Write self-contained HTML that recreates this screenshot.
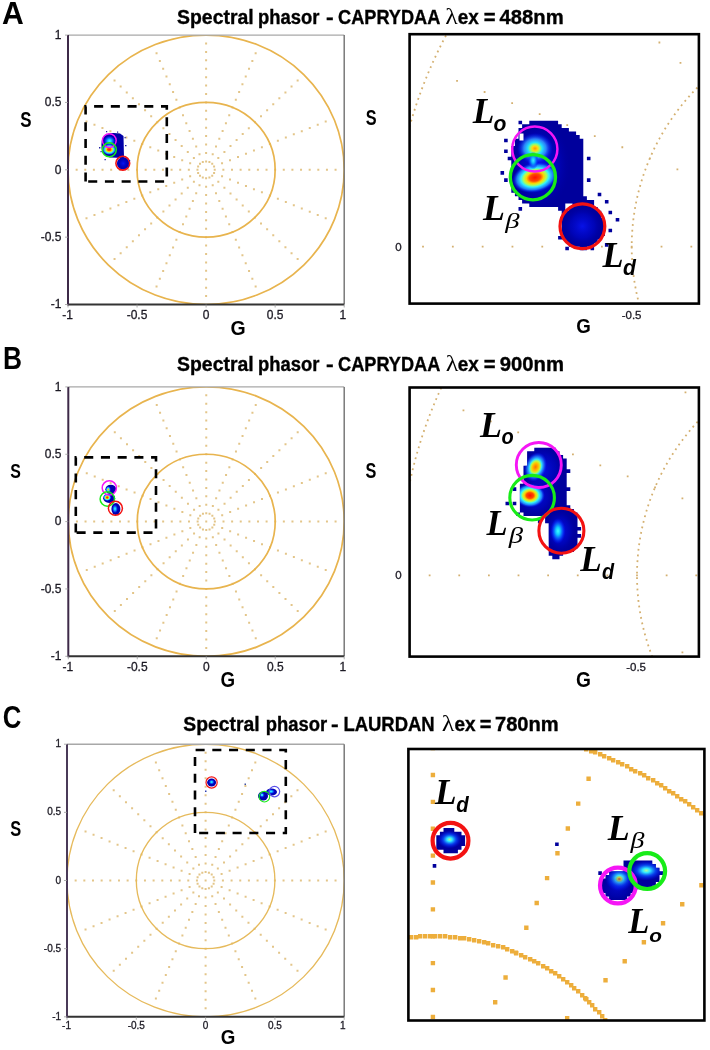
<!DOCTYPE html>
<html><head><meta charset="utf-8"><style>
html,body{margin:0;padding:0;background:#fff;}
body{width:710px;height:1050px;overflow:hidden;}
svg{display:block;will-change:transform;}
.ax{font-family:"Liberation Sans",sans-serif;fill:#1c1a24;stroke:#1c1a24;stroke-width:0.3px;}
</style></head><body>
<svg width="710" height="1050" viewBox="0 0 710 1050">
<defs>

<radialGradient id="gBlue"><stop offset="0" stop-color="#0814f0"/><stop offset="0.6" stop-color="#0008d0" stop-opacity="0.6"/><stop offset="1" stop-color="#0000a8" stop-opacity="0"/></radialGradient>
<radialGradient id="gHotR"><stop offset="0" stop-color="#ff1000"/><stop offset="0.24" stop-color="#ff4a00"/><stop offset="0.38" stop-color="#ffd400"/><stop offset="0.5" stop-color="#b0ff50"/><stop offset="0.62" stop-color="#30f0ff"/><stop offset="0.8" stop-color="#2088ff" stop-opacity="0.9"/><stop offset="1" stop-color="#0010ff" stop-opacity="0"/></radialGradient>
<radialGradient id="gHotY"><stop offset="0" stop-color="#ff9800"/><stop offset="0.16" stop-color="#ffdc10"/><stop offset="0.27" stop-color="#90ff70"/><stop offset="0.4" stop-color="#20e0ff"/><stop offset="0.62" stop-color="#3090ff" stop-opacity="0.9"/><stop offset="1" stop-color="#0010ff" stop-opacity="0"/></radialGradient>
<radialGradient id="gHotO"><stop offset="0" stop-color="#ff7000"/><stop offset="0.28" stop-color="#ffc800"/><stop offset="0.42" stop-color="#b0ff50"/><stop offset="0.54" stop-color="#30e0ff"/><stop offset="0.75" stop-color="#2070ff" stop-opacity="0.8"/><stop offset="1" stop-color="#0010ff" stop-opacity="0"/></radialGradient>
<radialGradient id="gCyan"><stop offset="0" stop-color="#40ffff"/><stop offset="0.3" stop-color="#10c8ff"/><stop offset="0.65" stop-color="#0a50ff" stop-opacity="0.8"/><stop offset="1" stop-color="#0010ff" stop-opacity="0"/></radialGradient>
<radialGradient id="gGY"><stop offset="0" stop-color="#ff6010"/><stop offset="0.14" stop-color="#e0ff30"/><stop offset="0.3" stop-color="#40f0ff"/><stop offset="0.6" stop-color="#0a50ff" stop-opacity="0.8"/><stop offset="1" stop-color="#0010ff" stop-opacity="0"/></radialGradient>
<radialGradient id="gLG"><stop offset="0" stop-color="#b0ffa0"/><stop offset="0.22" stop-color="#30e8ff"/><stop offset="0.55" stop-color="#0a50ff" stop-opacity="0.8"/><stop offset="1" stop-color="#0010ff" stop-opacity="0"/></radialGradient>

<clipPath id="clipA"><rect x="68" y="35.1" width="276.2" height="269.4"/></clipPath>
<clipPath id="clipB"><rect x="68.3" y="386.9" width="275.9" height="269.4"/></clipPath>
<clipPath id="clipC"><rect x="67" y="744.2" width="277.2" height="272.6"/></clipPath>
<clipPath id="icA"><rect x="409.5" y="34.2" width="289.4" height="269.6"/></clipPath>
<clipPath id="icB"><rect x="409.5" y="387.5" width="289.4" height="269"/></clipPath>
<clipPath id="icC"><rect x="408.4" y="749" width="296" height="271.5"/></clipPath>
<clipPath id="hmA1"><path d="M518.5,120.7h3.6v3.6h-3.6zM529.3,120.7h28.8v3.6h-28.8zM522.1,124.3h39.6v3.6h-39.6zM518.5,127.9h50.4v3.6h-50.4zM518.5,131.5h57.6v3.6h-57.6zM518.5,135.1h61.2v3.6h-61.2zM504.1,138.7h3.6v3.6h-3.6zM514.9,138.7h68.4v3.6h-68.4zM514.9,142.3h68.4v3.6h-68.4zM511.3,145.9h72v3.6h-72zM504.1,149.5h3.6v3.6h-3.6zM511.3,149.5h72v3.6h-72zM511.3,153.1h72v3.6h-72zM507.7,156.7h75.6v3.6h-75.6zM586.9,156.7h3.6v3.6h-3.6zM511.3,160.3h72v3.6h-72zM511.3,163.9h72v3.6h-72zM511.3,167.5h72v3.6h-72zM500.5,171.1h3.6v3.6h-3.6zM511.3,171.1h72v3.6h-72zM511.3,174.7h72v3.6h-72zM504.1,178.3h3.6v3.6h-3.6zM511.3,178.3h72v3.6h-72zM586.9,178.3h3.6v3.6h-3.6zM511.3,181.9h72v3.6h-72zM511.3,185.5h72v3.6h-72zM511.3,189.1h72v3.6h-72zM514.9,192.7h68.4v3.6h-68.4zM597.7,192.7h3.6v3.6h-3.6zM518.5,196.3h68.4v3.6h-68.4zM522.1,199.9h72v3.6h-72zM604.9,199.9h3.6v3.6h-3.6zM529.3,203.5h36v3.6h-36zM572.5,203.5h21.6v3.6h-21.6zM518.5,207.1h3.6v3.6h-3.6zM558.1,207.1h7.2v3.6h-7.2zM568.9,207.1h28.8v3.6h-28.8zM561.7,210.7h39.6v3.6h-39.6zM608.5,210.7h3.6v3.6h-3.6zM561.7,214.3h39.6v3.6h-39.6zM561.7,217.9h43.2v3.6h-43.2zM615.7,217.9h3.6v3.6h-3.6zM561.7,221.5h43.2v3.6h-43.2zM561.7,225.1h43.2v3.6h-43.2zM561.7,228.7h43.2v3.6h-43.2zM608.5,228.7h3.6v3.6h-3.6zM561.7,232.3h43.2v3.6h-43.2zM558.1,235.9h43.2v3.6h-43.2zM565.3,239.5h32.4v3.6h-32.4zM568.9,243.1h25.2v3.6h-25.2zM604.9,243.1h3.6v3.6h-3.6zM565.3,246.7h3.6v3.6h-3.6zM579.7,246.7h7.2v3.6h-7.2zM590.5,246.7h3.6v3.6h-3.6z"/></clipPath>
<clipPath id="hmB1"><path d="M534.3,447.7h21.6v3.6h-21.6zM527.1,451.3h32.4v3.6h-32.4zM527.1,454.9h36v3.6h-36zM527.1,458.5h39.6v3.6h-39.6zM527.1,462.1h39.6v3.6h-39.6zM523.5,465.7h43.2v3.6h-43.2zM523.5,469.3h46.8v3.6h-46.8zM523.5,472.9h43.2v3.6h-43.2zM523.5,476.5h43.2v3.6h-43.2zM523.5,480.1h43.2v3.6h-43.2zM519.9,483.7h46.8v3.6h-46.8zM512.7,487.3h3.6v3.6h-3.6zM519.9,487.3h50.4v3.6h-50.4zM519.9,490.9h46.8v3.6h-46.8zM519.9,494.5h46.8v3.6h-46.8zM519.9,498.1h46.8v3.6h-46.8zM505.5,501.7h3.6v3.6h-3.6zM512.7,501.7h3.6v3.6h-3.6zM519.9,501.7h46.8v3.6h-46.8zM519.9,505.3h50.4v3.6h-50.4zM519.9,508.9h54v3.6h-54zM516.3,512.5h3.6v3.6h-3.6zM523.5,512.5h54v3.6h-54zM545.1,516.1h32.4v3.6h-32.4zM537.9,519.7h3.6v3.6h-3.6zM545.1,519.7h32.4v3.6h-32.4zM548.7,523.3h28.8v3.6h-28.8zM548.7,526.9h32.4v3.6h-32.4zM548.7,530.5h28.8v3.6h-28.8zM548.7,534.1h32.4v3.6h-32.4zM548.7,537.7h28.8v3.6h-28.8zM548.7,541.3h28.8v3.6h-28.8zM548.7,544.9h28.8v3.6h-28.8zM548.7,548.5h25.2v3.6h-25.2zM548.7,552.1h14.4v3.6h-14.4zM552.3,555.7h7.2v3.6h-7.2z"/></clipPath>
<clipPath id="hmC1"><path d="M443.5,828.1h10.8v3.6h-10.8zM439.9,831.7h21.6v3.6h-21.6zM436.3,835.3h28.8v3.6h-28.8zM436.3,838.9h28.8v3.6h-28.8zM436.3,842.5h28.8v3.6h-28.8zM555.1,842.5h3.6v3.6h-3.6zM436.3,846.1h25.2v3.6h-25.2zM443.5,849.7h14.4v3.6h-14.4zM623.5,860.5h28.8v3.6h-28.8zM432.7,864.1h3.6v3.6h-3.6zM623.5,864.1h32.4v3.6h-32.4zM623.5,867.7h36v3.6h-36zM598.3,871.3h3.6v3.6h-3.6zM609.1,871.3h54v3.6h-54zM605.5,874.9h54v3.6h-54zM601.9,878.5h57.6v3.6h-57.6zM601.9,882.1h54v3.6h-54zM601.9,885.7h50.4v3.6h-50.4zM601.9,889.3h32.4v3.6h-32.4zM605.5,892.9h25.2v3.6h-25.2zM609.1,896.5h18v3.6h-18z"/></clipPath>
</defs>
<rect width="710" height="1050" fill="#fff"/>
<text x="177.07" y="23.6" font-family='"Liberation Sans",sans-serif' font-weight="bold" font-style="normal" font-size="20" textLength="76.62" lengthAdjust="spacingAndGlyphs" fill="#000" stroke="#000" stroke-width="0.35">Spectral</text>
<text x="258.1" y="23.6" font-family='"Liberation Sans",sans-serif' font-weight="bold" font-style="normal" font-size="20" textLength="61.46" lengthAdjust="spacingAndGlyphs" fill="#000" stroke="#000" stroke-width="0.35">phasor</text>
<text x="326.04" y="23.6" font-family='"Liberation Sans",sans-serif' font-weight="bold" font-style="normal" font-size="20" textLength="7.63" lengthAdjust="spacingAndGlyphs" fill="#000" stroke="#000" stroke-width="0.35">-</text>
<text x="338.07" y="23.6" font-family='"Liberation Sans",sans-serif' font-weight="bold" font-style="normal" font-size="20" textLength="102.28" lengthAdjust="spacingAndGlyphs" fill="#000" stroke="#000" stroke-width="0.35">CAPRYDAA</text>
<text x="457.79" y="23.6" font-family='"Liberation Sans",sans-serif' font-weight="bold" font-style="normal" font-size="20" textLength="21.05" lengthAdjust="spacingAndGlyphs" fill="#000" stroke="#000" stroke-width="0.35">ex</text>
<text x="483.79" y="23.6" font-family='"Liberation Sans",sans-serif' font-weight="bold" font-style="normal" font-size="20" textLength="11.8" lengthAdjust="spacingAndGlyphs" fill="#000" stroke="#000" stroke-width="0.35">=</text>
<text x="499.6" y="23.6" font-family='"Liberation Sans",sans-serif' font-weight="bold" font-style="normal" font-size="20" textLength="64.04" lengthAdjust="spacingAndGlyphs" fill="#000" stroke="#000" stroke-width="0.35">488nm</text>
<text x="177.07" y="370.8" font-family='"Liberation Sans",sans-serif' font-weight="bold" font-style="normal" font-size="20" textLength="76.62" lengthAdjust="spacingAndGlyphs" fill="#000" stroke="#000" stroke-width="0.35">Spectral</text>
<text x="258.1" y="370.8" font-family='"Liberation Sans",sans-serif' font-weight="bold" font-style="normal" font-size="20" textLength="61.46" lengthAdjust="spacingAndGlyphs" fill="#000" stroke="#000" stroke-width="0.35">phasor</text>
<text x="326.04" y="370.8" font-family='"Liberation Sans",sans-serif' font-weight="bold" font-style="normal" font-size="20" textLength="7.63" lengthAdjust="spacingAndGlyphs" fill="#000" stroke="#000" stroke-width="0.35">-</text>
<text x="338.07" y="370.8" font-family='"Liberation Sans",sans-serif' font-weight="bold" font-style="normal" font-size="20" textLength="102.28" lengthAdjust="spacingAndGlyphs" fill="#000" stroke="#000" stroke-width="0.35">CAPRYDAA</text>
<text x="457.79" y="370.8" font-family='"Liberation Sans",sans-serif' font-weight="bold" font-style="normal" font-size="20" textLength="21.05" lengthAdjust="spacingAndGlyphs" fill="#000" stroke="#000" stroke-width="0.35">ex</text>
<text x="483.79" y="370.8" font-family='"Liberation Sans",sans-serif' font-weight="bold" font-style="normal" font-size="20" textLength="11.8" lengthAdjust="spacingAndGlyphs" fill="#000" stroke="#000" stroke-width="0.35">=</text>
<text x="499.74" y="370.8" font-family='"Liberation Sans",sans-serif' font-weight="bold" font-style="normal" font-size="20" textLength="64.2" lengthAdjust="spacingAndGlyphs" fill="#000" stroke="#000" stroke-width="0.35">900nm</text>
<text x="183.37" y="731.1" font-family='"Liberation Sans",sans-serif' font-weight="bold" font-style="normal" font-size="20" textLength="76.21" lengthAdjust="spacingAndGlyphs" fill="#000" stroke="#000" stroke-width="0.35">Spectral</text>
<text x="265.7" y="731.1" font-family='"Liberation Sans",sans-serif' font-weight="bold" font-style="normal" font-size="20" textLength="61.46" lengthAdjust="spacingAndGlyphs" fill="#000" stroke="#000" stroke-width="0.35">phasor</text>
<text x="331.14" y="731.1" font-family='"Liberation Sans",sans-serif' font-weight="bold" font-style="normal" font-size="20" textLength="7.63" lengthAdjust="spacingAndGlyphs" fill="#000" stroke="#000" stroke-width="0.35">-</text>
<text x="343.4" y="731.1" font-family='"Liberation Sans",sans-serif' font-weight="bold" font-style="normal" font-size="20" textLength="91.33" lengthAdjust="spacingAndGlyphs" fill="#000" stroke="#000" stroke-width="0.35">LAURDAN</text>
<text x="454.49" y="731.1" font-family='"Liberation Sans",sans-serif' font-weight="bold" font-style="normal" font-size="20" textLength="21.15" lengthAdjust="spacingAndGlyphs" fill="#000" stroke="#000" stroke-width="0.35">ex</text>
<text x="479.8" y="731.1" font-family='"Liberation Sans",sans-serif' font-weight="bold" font-style="normal" font-size="20" textLength="11.68" lengthAdjust="spacingAndGlyphs" fill="#000" stroke="#000" stroke-width="0.35">=</text>
<text x="494.94" y="731.1" font-family='"Liberation Sans",sans-serif' font-weight="bold" font-style="normal" font-size="20" textLength="63.78" lengthAdjust="spacingAndGlyphs" fill="#000" stroke="#000" stroke-width="0.35">780nm</text>
<text x="445.25" y="24.2" font-family='"Liberation Serif",serif' font-weight="normal" font-style="normal" font-size="22.27" textLength="12.57" lengthAdjust="spacingAndGlyphs" fill="#000">λ</text>
<text x="445.75" y="371.4" font-family='"Liberation Serif",serif' font-weight="normal" font-style="normal" font-size="22.27" textLength="12.68" lengthAdjust="spacingAndGlyphs" fill="#000">λ</text>
<text x="441.85" y="731.2" font-family='"Liberation Serif",serif' font-weight="normal" font-style="normal" font-size="22.27" textLength="12.68" lengthAdjust="spacingAndGlyphs" fill="#000">λ</text>
<text x="2.05" y="23.9" font-family='"Liberation Sans",sans-serif' font-weight="bold" font-style="normal" font-size="31.49" textLength="21.8" lengthAdjust="spacingAndGlyphs" fill="#000">A</text>
<text x="2.89" y="369.2" font-family='"Liberation Sans",sans-serif' font-weight="bold" font-style="normal" font-size="31.42" textLength="18.98" lengthAdjust="spacingAndGlyphs" fill="#000">B</text>
<text x="2.77" y="727.58" font-family='"Liberation Sans",sans-serif' font-weight="bold" font-style="normal" font-size="32.08" textLength="18.63" lengthAdjust="spacingAndGlyphs" fill="#000">C</text>
<text x="20.13" y="126.89" font-family='"Liberation Sans",sans-serif' font-weight="bold" font-style="normal" font-size="21.34" textLength="11.29" lengthAdjust="spacingAndGlyphs" fill="#000">S</text>
<text x="230.52" y="334.79" font-family='"Liberation Sans",sans-serif' font-weight="bold" font-style="normal" font-size="20.64" textLength="15.16" lengthAdjust="spacingAndGlyphs" fill="#000">G</text>
<text x="365.85" y="124.89" font-family='"Liberation Sans",sans-serif' font-weight="bold" font-style="normal" font-size="21.48" textLength="10.85" lengthAdjust="spacingAndGlyphs" fill="#000">S</text>
<text x="576.35" y="333.19" font-family='"Liberation Sans",sans-serif' font-weight="bold" font-style="normal" font-size="21.06" textLength="14.58" lengthAdjust="spacingAndGlyphs" fill="#000">G</text>
<text x="10.36" y="477.89" font-family='"Liberation Sans",sans-serif' font-weight="bold" font-style="normal" font-size="20.64" textLength="10.63" lengthAdjust="spacingAndGlyphs" fill="#000">S</text>
<text x="220.45" y="686.79" font-family='"Liberation Sans",sans-serif' font-weight="bold" font-style="normal" font-size="21.48" textLength="14.58" lengthAdjust="spacingAndGlyphs" fill="#000">G</text>
<text x="365.55" y="478.49" font-family='"Liberation Sans",sans-serif' font-weight="bold" font-style="normal" font-size="21.48" textLength="10.85" lengthAdjust="spacingAndGlyphs" fill="#000">S</text>
<text x="576.03" y="686.79" font-family='"Liberation Sans",sans-serif' font-weight="bold" font-style="normal" font-size="21.48" textLength="14.93" lengthAdjust="spacingAndGlyphs" fill="#000">G</text>
<text x="10.35" y="835.99" font-family='"Liberation Sans",sans-serif' font-weight="bold" font-style="normal" font-size="21.48" textLength="10.96" lengthAdjust="spacingAndGlyphs" fill="#000">S</text>
<text x="220.75" y="1044" font-family='"Liberation Sans",sans-serif' font-weight="bold" font-style="normal" font-size="20.21" textLength="14.58" lengthAdjust="spacingAndGlyphs" fill="#000">G</text>
<g clip-path="url(#clipA)">
<path d="M222.36,168.8h2v2h-2zM230.99,168.8h2v2h-2zM239.62,168.8h2v2h-2zM248.26,168.8h2v2h-2zM256.89,168.8h2v2h-2zM265.52,168.8h2v2h-2zM274.15,168.8h2v2h-2zM282.78,168.8h2v2h-2zM291.41,168.8h2v2h-2zM300.04,168.8h2v2h-2zM308.67,168.8h2v2h-2zM317.31,168.8h2v2h-2zM325.94,168.8h2v2h-2zM334.57,168.8h2v2h-2zM221.05,162.36h2v2h-2zM229.02,159.13h2v2h-2zM237,155.91h2v2h-2zM244.97,152.69h2v2h-2zM252.95,149.47h2v2h-2zM260.92,146.25h2v2h-2zM268.89,143.03h2v2h-2zM276.87,139.8h2v2h-2zM284.84,136.58h2v2h-2zM292.82,133.36h2v2h-2zM300.79,130.14h2v2h-2zM308.77,126.92h2v2h-2zM316.74,123.7h2v2h-2zM324.71,120.47h2v2h-2zM217.31,156.89h2v2h-2zM223.41,150.94h2v2h-2zM229.51,144.99h2v2h-2zM235.62,139.04h2v2h-2zM241.72,133.08h2v2h-2zM247.82,127.13h2v2h-2zM253.93,121.18h2v2h-2zM260.03,115.22h2v2h-2zM266.13,109.27h2v2h-2zM272.24,103.32h2v2h-2zM278.34,97.36h2v2h-2zM284.44,91.41h2v2h-2zM290.55,85.46h2v2h-2zM296.65,79.51h2v2h-2zM211.71,153.24h2v2h-2zM215.01,145.47h2v2h-2zM218.31,137.69h2v2h-2zM221.62,129.91h2v2h-2zM224.92,122.13h2v2h-2zM228.22,114.35h2v2h-2zM231.52,106.58h2v2h-2zM234.83,98.8h2v2h-2zM238.13,91.02h2v2h-2zM241.43,83.24h2v2h-2zM244.74,75.47h2v2h-2zM248.04,67.69h2v2h-2zM251.34,59.91h2v2h-2zM254.65,52.13h2v2h-2zM205.1,151.96h2v2h-2zM205.1,143.54h2v2h-2zM205.1,135.12h2v2h-2zM205.1,126.71h2v2h-2zM205.1,118.29h2v2h-2zM205.1,109.87h2v2h-2zM205.1,101.45h2v2h-2zM205.1,93.03h2v2h-2zM205.1,84.61h2v2h-2zM205.1,76.19h2v2h-2zM205.1,67.78h2v2h-2zM205.1,59.36h2v2h-2zM205.1,50.94h2v2h-2zM205.1,42.52h2v2h-2zM198.49,153.24h2v2h-2zM195.19,145.47h2v2h-2zM191.89,137.69h2v2h-2zM188.58,129.91h2v2h-2zM185.28,122.13h2v2h-2zM181.98,114.35h2v2h-2zM178.68,106.58h2v2h-2zM175.37,98.8h2v2h-2zM172.07,91.02h2v2h-2zM168.77,83.24h2v2h-2zM165.46,75.47h2v2h-2zM162.16,67.69h2v2h-2zM158.86,59.91h2v2h-2zM155.55,52.13h2v2h-2zM192.89,156.89h2v2h-2zM186.79,150.94h2v2h-2zM180.69,144.99h2v2h-2zM174.58,139.04h2v2h-2zM168.48,133.08h2v2h-2zM162.38,127.13h2v2h-2zM156.27,121.18h2v2h-2zM150.17,115.22h2v2h-2zM144.07,109.27h2v2h-2zM137.96,103.32h2v2h-2zM131.86,97.36h2v2h-2zM125.76,91.41h2v2h-2zM119.65,85.46h2v2h-2zM113.55,79.51h2v2h-2zM189.15,162.36h2v2h-2zM181.18,159.13h2v2h-2zM173.2,155.91h2v2h-2zM165.23,152.69h2v2h-2zM157.25,149.47h2v2h-2zM149.28,146.25h2v2h-2zM141.31,143.03h2v2h-2zM133.33,139.8h2v2h-2zM125.36,136.58h2v2h-2zM117.38,133.36h2v2h-2zM109.41,130.14h2v2h-2zM101.43,126.92h2v2h-2zM93.46,123.7h2v2h-2zM85.49,120.47h2v2h-2zM187.84,168.8h2v2h-2zM179.21,168.8h2v2h-2zM170.57,168.8h2v2h-2zM161.94,168.8h2v2h-2zM153.31,168.8h2v2h-2zM144.68,168.8h2v2h-2zM136.05,168.8h2v2h-2zM127.42,168.8h2v2h-2zM118.79,168.8h2v2h-2zM110.16,168.8h2v2h-2zM101.53,168.8h2v2h-2zM92.89,168.8h2v2h-2zM84.26,168.8h2v2h-2zM75.63,168.8h2v2h-2zM189.15,175.24h2v2h-2zM181.18,178.47h2v2h-2zM173.2,181.69h2v2h-2zM165.23,184.91h2v2h-2zM157.25,188.13h2v2h-2zM149.28,191.35h2v2h-2zM141.31,194.57h2v2h-2zM133.33,197.8h2v2h-2zM125.36,201.02h2v2h-2zM117.38,204.24h2v2h-2zM109.41,207.46h2v2h-2zM101.43,210.68h2v2h-2zM93.46,213.9h2v2h-2zM85.49,217.13h2v2h-2zM192.89,180.71h2v2h-2zM186.79,186.66h2v2h-2zM180.69,192.61h2v2h-2zM174.58,198.56h2v2h-2zM168.48,204.52h2v2h-2zM162.38,210.47h2v2h-2zM156.27,216.42h2v2h-2zM150.17,222.38h2v2h-2zM144.07,228.33h2v2h-2zM137.96,234.28h2v2h-2zM131.86,240.24h2v2h-2zM125.76,246.19h2v2h-2zM119.65,252.14h2v2h-2zM113.55,258.09h2v2h-2zM198.49,184.36h2v2h-2zM195.19,192.13h2v2h-2zM191.89,199.91h2v2h-2zM188.58,207.69h2v2h-2zM185.28,215.47h2v2h-2zM181.98,223.25h2v2h-2zM178.68,231.02h2v2h-2zM175.37,238.8h2v2h-2zM172.07,246.58h2v2h-2zM168.77,254.36h2v2h-2zM165.46,262.13h2v2h-2zM162.16,269.91h2v2h-2zM158.86,277.69h2v2h-2zM155.55,285.47h2v2h-2zM205.1,185.64h2v2h-2zM205.1,194.06h2v2h-2zM205.1,202.48h2v2h-2zM205.1,210.89h2v2h-2zM205.1,219.31h2v2h-2zM205.1,227.73h2v2h-2zM205.1,236.15h2v2h-2zM205.1,244.57h2v2h-2zM205.1,252.99h2v2h-2zM205.1,261.41h2v2h-2zM205.1,269.82h2v2h-2zM205.1,278.24h2v2h-2zM205.1,286.66h2v2h-2zM205.1,295.08h2v2h-2zM211.71,184.36h2v2h-2zM215.01,192.13h2v2h-2zM218.31,199.91h2v2h-2zM221.62,207.69h2v2h-2zM224.92,215.47h2v2h-2zM228.22,223.25h2v2h-2zM231.52,231.02h2v2h-2zM234.83,238.8h2v2h-2zM238.13,246.58h2v2h-2zM241.43,254.36h2v2h-2zM244.74,262.13h2v2h-2zM248.04,269.91h2v2h-2zM251.34,277.69h2v2h-2zM254.65,285.47h2v2h-2zM217.31,180.71h2v2h-2zM223.41,186.66h2v2h-2zM229.51,192.61h2v2h-2zM235.62,198.56h2v2h-2zM241.72,204.52h2v2h-2zM247.82,210.47h2v2h-2zM253.93,216.42h2v2h-2zM260.03,222.38h2v2h-2zM266.13,228.33h2v2h-2zM272.24,234.28h2v2h-2zM278.34,240.24h2v2h-2zM284.44,246.19h2v2h-2zM290.55,252.14h2v2h-2zM296.65,258.09h2v2h-2zM221.05,175.24h2v2h-2zM229.02,178.47h2v2h-2zM237,181.69h2v2h-2zM244.97,184.91h2v2h-2zM252.95,188.13h2v2h-2zM260.92,191.35h2v2h-2zM268.89,194.57h2v2h-2zM276.87,197.8h2v2h-2zM284.84,201.02h2v2h-2zM292.82,204.24h2v2h-2zM300.79,207.46h2v2h-2zM308.77,210.68h2v2h-2zM316.74,213.9h2v2h-2zM324.71,217.13h2v2h-2zM213.73,168.8h2v2h-2zM213.07,165.58h2v2h-2zM211.2,162.85h2v2h-2zM208.4,161.02h2v2h-2zM205.1,160.38h2v2h-2zM201.8,161.02h2v2h-2zM199,162.85h2v2h-2zM197.13,165.58h2v2h-2zM196.47,168.8h2v2h-2zM197.13,172.02h2v2h-2zM199,174.75h2v2h-2zM201.8,176.58h2v2h-2zM205.1,177.22h2v2h-2zM208.4,176.58h2v2h-2zM211.2,174.75h2v2h-2zM213.07,172.02h2v2h-2zM205.1,168.8h2v2h-2z" fill="#DAB262" opacity="0.75"/>
<ellipse cx="206.1" cy="169.8" rx="138.1" ry="134.7" fill="none" stroke="#E8B44E" stroke-width="1.7"/>
<ellipse cx="206.1" cy="169.8" rx="69.05" ry="67.35" fill="none" stroke="#E8B44E" stroke-width="1.7"/>
</g>
<line x1="68" y1="35.1" x2="344.2" y2="35.1" stroke="#a8a8a8" stroke-width="1.4"/>
<line x1="344.2" y1="35.1" x2="344.2" y2="304.5" stroke="#707070" stroke-width="1.4"/>
<line x1="68" y1="304.5" x2="344.2" y2="304.5" stroke="#333" stroke-width="2"/>
<line x1="68" y1="35.1" x2="68" y2="305.5" stroke="#3e2a48" stroke-width="2"/>
<text x="61.4" y="38.82" font-size="12" text-anchor="end" class="ax">1</text>
<line x1="65" y1="35.1" x2="68" y2="35.1" stroke="#999" stroke-width="0.8"/>
<text x="61.4" y="106.17" font-size="12" text-anchor="end" class="ax">0.5</text>
<line x1="65" y1="102.45" x2="68" y2="102.45" stroke="#999" stroke-width="0.8"/>
<text x="61.4" y="173.52" font-size="12" text-anchor="end" class="ax">0</text>
<line x1="65" y1="169.8" x2="68" y2="169.8" stroke="#999" stroke-width="0.8"/>
<text x="61.4" y="240.87" font-size="12" text-anchor="end" class="ax">-0.5</text>
<line x1="65" y1="237.15" x2="68" y2="237.15" stroke="#999" stroke-width="0.8"/>
<text x="61.4" y="308.22" font-size="12" text-anchor="end" class="ax">-1</text>
<line x1="65" y1="304.5" x2="68" y2="304.5" stroke="#999" stroke-width="0.8"/>
<text x="342.9" y="318.8" font-size="12" text-anchor="middle" class="ax">1</text>
<line x1="344.2" y1="304.5" x2="344.2" y2="307.5" stroke="#999" stroke-width="0.8"/>
<text x="275.15" y="318.8" font-size="12" text-anchor="middle" class="ax">0.5</text>
<line x1="275.15" y1="304.5" x2="275.15" y2="307.5" stroke="#999" stroke-width="0.8"/>
<text x="206.1" y="318.8" font-size="12" text-anchor="middle" class="ax">0</text>
<line x1="206.1" y1="304.5" x2="206.1" y2="307.5" stroke="#999" stroke-width="0.8"/>
<text x="137.05" y="318.8" font-size="12" text-anchor="middle" class="ax">-0.5</text>
<line x1="137.05" y1="304.5" x2="137.05" y2="307.5" stroke="#999" stroke-width="0.8"/>
<text x="67.5" y="318.8" font-size="12" text-anchor="middle" class="ax">-1</text>
<line x1="68" y1="304.5" x2="68" y2="307.5" stroke="#999" stroke-width="0.8"/>
<g clip-path="url(#clipB)">
<path d="M222.49,520.6h2v2h-2zM231.12,520.6h2v2h-2zM239.74,520.6h2v2h-2zM248.36,520.6h2v2h-2zM256.98,520.6h2v2h-2zM265.6,520.6h2v2h-2zM274.23,520.6h2v2h-2zM282.85,520.6h2v2h-2zM291.47,520.6h2v2h-2zM300.09,520.6h2v2h-2zM308.71,520.6h2v2h-2zM317.33,520.6h2v2h-2zM325.96,520.6h2v2h-2zM334.58,520.6h2v2h-2zM221.18,514.16h2v2h-2zM229.15,510.93h2v2h-2zM237.11,507.71h2v2h-2zM245.08,504.49h2v2h-2zM253.04,501.27h2v2h-2zM261.01,498.05h2v2h-2zM268.97,494.83h2v2h-2zM276.94,491.6h2v2h-2zM284.91,488.38h2v2h-2zM292.87,485.16h2v2h-2zM300.84,481.94h2v2h-2zM308.8,478.72h2v2h-2zM316.77,475.5h2v2h-2zM324.73,472.27h2v2h-2zM217.44,508.69h2v2h-2zM223.54,502.74h2v2h-2zM229.64,496.79h2v2h-2zM235.73,490.84h2v2h-2zM241.83,484.88h2v2h-2zM247.93,478.93h2v2h-2zM254.02,472.98h2v2h-2zM260.12,467.02h2v2h-2zM266.22,461.07h2v2h-2zM272.31,455.12h2v2h-2zM278.41,449.16h2v2h-2zM284.51,443.21h2v2h-2zM290.6,437.26h2v2h-2zM296.7,431.31h2v2h-2zM211.85,505.04h2v2h-2zM215.15,497.27h2v2h-2zM218.45,489.49h2v2h-2zM221.75,481.71h2v2h-2zM225.05,473.93h2v2h-2zM228.35,466.15h2v2h-2zM231.65,458.38h2v2h-2zM234.95,450.6h2v2h-2zM238.24,442.82h2v2h-2zM241.54,435.04h2v2h-2zM244.84,427.27h2v2h-2zM248.14,419.49h2v2h-2zM251.44,411.71h2v2h-2zM254.74,403.93h2v2h-2zM205.25,503.76h2v2h-2zM205.25,495.34h2v2h-2zM205.25,486.92h2v2h-2zM205.25,478.51h2v2h-2zM205.25,470.09h2v2h-2zM205.25,461.67h2v2h-2zM205.25,453.25h2v2h-2zM205.25,444.83h2v2h-2zM205.25,436.41h2v2h-2zM205.25,427.99h2v2h-2zM205.25,419.57h2v2h-2zM205.25,411.16h2v2h-2zM205.25,402.74h2v2h-2zM205.25,394.32h2v2h-2zM198.65,505.04h2v2h-2zM195.35,497.27h2v2h-2zM192.05,489.49h2v2h-2zM188.75,481.71h2v2h-2zM185.45,473.93h2v2h-2zM182.15,466.15h2v2h-2zM178.85,458.38h2v2h-2zM175.55,450.6h2v2h-2zM172.26,442.82h2v2h-2zM168.96,435.04h2v2h-2zM165.66,427.27h2v2h-2zM162.36,419.49h2v2h-2zM159.06,411.71h2v2h-2zM155.76,403.93h2v2h-2zM193.06,508.69h2v2h-2zM186.96,502.74h2v2h-2zM180.86,496.79h2v2h-2zM174.77,490.84h2v2h-2zM168.67,484.88h2v2h-2zM162.57,478.93h2v2h-2zM156.48,472.98h2v2h-2zM150.38,467.02h2v2h-2zM144.28,461.07h2v2h-2zM138.19,455.12h2v2h-2zM132.09,449.16h2v2h-2zM125.99,443.21h2v2h-2zM119.9,437.26h2v2h-2zM113.8,431.31h2v2h-2zM189.32,514.16h2v2h-2zM181.35,510.93h2v2h-2zM173.39,507.71h2v2h-2zM165.42,504.49h2v2h-2zM157.46,501.27h2v2h-2zM149.49,498.05h2v2h-2zM141.53,494.83h2v2h-2zM133.56,491.6h2v2h-2zM125.59,488.38h2v2h-2zM117.63,485.16h2v2h-2zM109.66,481.94h2v2h-2zM101.7,478.72h2v2h-2zM93.73,475.5h2v2h-2zM85.77,472.27h2v2h-2zM188.01,520.6h2v2h-2zM179.38,520.6h2v2h-2zM170.76,520.6h2v2h-2zM162.14,520.6h2v2h-2zM153.52,520.6h2v2h-2zM144.9,520.6h2v2h-2zM136.28,520.6h2v2h-2zM127.65,520.6h2v2h-2zM119.03,520.6h2v2h-2zM110.41,520.6h2v2h-2zM101.79,520.6h2v2h-2zM93.17,520.6h2v2h-2zM84.54,520.6h2v2h-2zM75.92,520.6h2v2h-2zM189.32,527.04h2v2h-2zM181.35,530.27h2v2h-2zM173.39,533.49h2v2h-2zM165.42,536.71h2v2h-2zM157.46,539.93h2v2h-2zM149.49,543.15h2v2h-2zM141.53,546.37h2v2h-2zM133.56,549.6h2v2h-2zM125.59,552.82h2v2h-2zM117.63,556.04h2v2h-2zM109.66,559.26h2v2h-2zM101.7,562.48h2v2h-2zM93.73,565.7h2v2h-2zM85.77,568.93h2v2h-2zM193.06,532.51h2v2h-2zM186.96,538.46h2v2h-2zM180.86,544.41h2v2h-2zM174.77,550.36h2v2h-2zM168.67,556.32h2v2h-2zM162.57,562.27h2v2h-2zM156.48,568.22h2v2h-2zM150.38,574.18h2v2h-2zM144.28,580.13h2v2h-2zM138.19,586.08h2v2h-2zM132.09,592.04h2v2h-2zM125.99,597.99h2v2h-2zM119.9,603.94h2v2h-2zM113.8,609.89h2v2h-2zM198.65,536.16h2v2h-2zM195.35,543.93h2v2h-2zM192.05,551.71h2v2h-2zM188.75,559.49h2v2h-2zM185.45,567.27h2v2h-2zM182.15,575.05h2v2h-2zM178.85,582.82h2v2h-2zM175.55,590.6h2v2h-2zM172.26,598.38h2v2h-2zM168.96,606.16h2v2h-2zM165.66,613.93h2v2h-2zM162.36,621.71h2v2h-2zM159.06,629.49h2v2h-2zM155.76,637.27h2v2h-2zM205.25,537.44h2v2h-2zM205.25,545.86h2v2h-2zM205.25,554.27h2v2h-2zM205.25,562.69h2v2h-2zM205.25,571.11h2v2h-2zM205.25,579.53h2v2h-2zM205.25,587.95h2v2h-2zM205.25,596.37h2v2h-2zM205.25,604.79h2v2h-2zM205.25,613.21h2v2h-2zM205.25,621.62h2v2h-2zM205.25,630.04h2v2h-2zM205.25,638.46h2v2h-2zM205.25,646.88h2v2h-2zM211.85,536.16h2v2h-2zM215.15,543.93h2v2h-2zM218.45,551.71h2v2h-2zM221.75,559.49h2v2h-2zM225.05,567.27h2v2h-2zM228.35,575.05h2v2h-2zM231.65,582.82h2v2h-2zM234.95,590.6h2v2h-2zM238.24,598.38h2v2h-2zM241.54,606.16h2v2h-2zM244.84,613.93h2v2h-2zM248.14,621.71h2v2h-2zM251.44,629.49h2v2h-2zM254.74,637.27h2v2h-2zM217.44,532.51h2v2h-2zM223.54,538.46h2v2h-2zM229.64,544.41h2v2h-2zM235.73,550.36h2v2h-2zM241.83,556.32h2v2h-2zM247.93,562.27h2v2h-2zM254.02,568.22h2v2h-2zM260.12,574.18h2v2h-2zM266.22,580.13h2v2h-2zM272.31,586.08h2v2h-2zM278.41,592.04h2v2h-2zM284.51,597.99h2v2h-2zM290.6,603.94h2v2h-2zM296.7,609.89h2v2h-2zM221.18,527.04h2v2h-2zM229.15,530.27h2v2h-2zM237.11,533.49h2v2h-2zM245.08,536.71h2v2h-2zM253.04,539.93h2v2h-2zM261.01,543.15h2v2h-2zM268.97,546.37h2v2h-2zM276.94,549.6h2v2h-2zM284.91,552.82h2v2h-2zM292.87,556.04h2v2h-2zM300.84,559.26h2v2h-2zM308.8,562.48h2v2h-2zM316.77,565.7h2v2h-2zM324.73,568.93h2v2h-2zM213.87,520.6h2v2h-2zM213.22,517.38h2v2h-2zM211.35,514.65h2v2h-2zM208.55,512.82h2v2h-2zM205.25,512.18h2v2h-2zM201.95,512.82h2v2h-2zM199.15,514.65h2v2h-2zM197.28,517.38h2v2h-2zM196.63,520.6h2v2h-2zM197.28,523.82h2v2h-2zM199.15,526.55h2v2h-2zM201.95,528.38h2v2h-2zM205.25,529.02h2v2h-2zM208.55,528.38h2v2h-2zM211.35,526.55h2v2h-2zM213.22,523.82h2v2h-2zM205.25,520.6h2v2h-2z" fill="#DAB262" opacity="0.75"/>
<ellipse cx="206.25" cy="521.6" rx="137.95" ry="134.7" fill="none" stroke="#E8B44E" stroke-width="1.7"/>
<ellipse cx="206.25" cy="521.6" rx="68.97" ry="67.35" fill="none" stroke="#E8B44E" stroke-width="1.7"/>
</g>
<line x1="68.3" y1="386.9" x2="344.2" y2="386.9" stroke="#a8a8a8" stroke-width="1.4"/>
<line x1="344.2" y1="386.9" x2="344.2" y2="656.3" stroke="#707070" stroke-width="1.4"/>
<line x1="68.3" y1="656.3" x2="344.2" y2="656.3" stroke="#333" stroke-width="2"/>
<line x1="68.3" y1="386.9" x2="68.3" y2="657.3" stroke="#3e2a48" stroke-width="2"/>
<text x="61.4" y="390.62" font-size="12" text-anchor="end" class="ax">1</text>
<line x1="65.3" y1="386.9" x2="68.3" y2="386.9" stroke="#999" stroke-width="0.8"/>
<text x="61.4" y="457.97" font-size="12" text-anchor="end" class="ax">0.5</text>
<line x1="65.3" y1="454.25" x2="68.3" y2="454.25" stroke="#999" stroke-width="0.8"/>
<text x="61.4" y="525.32" font-size="12" text-anchor="end" class="ax">0</text>
<line x1="65.3" y1="521.6" x2="68.3" y2="521.6" stroke="#999" stroke-width="0.8"/>
<text x="61.4" y="592.67" font-size="12" text-anchor="end" class="ax">-0.5</text>
<line x1="65.3" y1="588.95" x2="68.3" y2="588.95" stroke="#999" stroke-width="0.8"/>
<text x="61.4" y="660.02" font-size="12" text-anchor="end" class="ax">-1</text>
<line x1="65.3" y1="656.3" x2="68.3" y2="656.3" stroke="#999" stroke-width="0.8"/>
<text x="342.9" y="671" font-size="12" text-anchor="middle" class="ax">1</text>
<line x1="344.2" y1="656.3" x2="344.2" y2="659.3" stroke="#999" stroke-width="0.8"/>
<text x="275.23" y="671" font-size="12" text-anchor="middle" class="ax">0.5</text>
<line x1="275.23" y1="656.3" x2="275.23" y2="659.3" stroke="#999" stroke-width="0.8"/>
<text x="206.25" y="671" font-size="12" text-anchor="middle" class="ax">0</text>
<line x1="206.25" y1="656.3" x2="206.25" y2="659.3" stroke="#999" stroke-width="0.8"/>
<text x="137.28" y="671" font-size="12" text-anchor="middle" class="ax">-0.5</text>
<line x1="137.28" y1="656.3" x2="137.28" y2="659.3" stroke="#999" stroke-width="0.8"/>
<text x="67.8" y="671" font-size="12" text-anchor="middle" class="ax">-1</text>
<line x1="68.3" y1="656.3" x2="68.3" y2="659.3" stroke="#999" stroke-width="0.8"/>
<g clip-path="url(#clipC)">
<path d="M221.92,879.5h2v2h-2zM230.59,879.5h2v2h-2zM239.25,879.5h2v2h-2zM247.91,879.5h2v2h-2zM256.57,879.5h2v2h-2zM265.24,879.5h2v2h-2zM273.9,879.5h2v2h-2zM282.56,879.5h2v2h-2zM291.23,879.5h2v2h-2zM299.89,879.5h2v2h-2zM308.55,879.5h2v2h-2zM317.21,879.5h2v2h-2zM325.88,879.5h2v2h-2zM334.54,879.5h2v2h-2zM220.61,872.98h2v2h-2zM228.61,869.72h2v2h-2zM236.61,866.46h2v2h-2zM244.62,863.2h2v2h-2zM252.62,859.94h2v2h-2zM260.62,856.68h2v2h-2zM268.62,853.42h2v2h-2zM276.63,850.16h2v2h-2zM284.63,846.9h2v2h-2zM292.63,843.64h2v2h-2zM300.64,840.38h2v2h-2zM308.64,837.12h2v2h-2zM316.64,833.86h2v2h-2zM324.65,830.6h2v2h-2zM216.85,867.45h2v2h-2zM222.98,861.43h2v2h-2zM229.1,855.41h2v2h-2zM235.23,849.38h2v2h-2zM241.35,843.36h2v2h-2zM247.48,837.33h2v2h-2zM253.6,831.31h2v2h-2zM259.73,825.29h2v2h-2zM265.85,819.26h2v2h-2zM271.98,813.24h2v2h-2zM278.1,807.22h2v2h-2zM284.23,801.19h2v2h-2zM290.35,795.17h2v2h-2zM296.48,789.15h2v2h-2zM211.23,863.76h2v2h-2zM214.54,855.89h2v2h-2zM217.86,848.02h2v2h-2zM221.17,840.15h2v2h-2zM224.49,832.28h2v2h-2zM227.8,824.41h2v2h-2zM231.12,816.54h2v2h-2zM234.43,808.67h2v2h-2zM237.75,800.8h2v2h-2zM241.06,792.93h2v2h-2zM244.38,785.06h2v2h-2zM247.69,777.19h2v2h-2zM251.01,769.32h2v2h-2zM254.32,761.45h2v2h-2zM204.6,862.46h2v2h-2zM204.6,853.94h2v2h-2zM204.6,845.42h2v2h-2zM204.6,836.91h2v2h-2zM204.6,828.39h2v2h-2zM204.6,819.87h2v2h-2zM204.6,811.35h2v2h-2zM204.6,802.83h2v2h-2zM204.6,794.31h2v2h-2zM204.6,785.79h2v2h-2zM204.6,777.28h2v2h-2zM204.6,768.76h2v2h-2zM204.6,760.24h2v2h-2zM204.6,751.72h2v2h-2zM197.97,863.76h2v2h-2zM194.66,855.89h2v2h-2zM191.34,848.02h2v2h-2zM188.03,840.15h2v2h-2zM184.71,832.28h2v2h-2zM181.4,824.41h2v2h-2zM178.08,816.54h2v2h-2zM174.77,808.67h2v2h-2zM171.45,800.8h2v2h-2zM168.14,792.93h2v2h-2zM164.82,785.06h2v2h-2zM161.51,777.19h2v2h-2zM158.19,769.32h2v2h-2zM154.88,761.45h2v2h-2zM192.35,867.45h2v2h-2zM186.22,861.43h2v2h-2zM180.1,855.41h2v2h-2zM173.97,849.38h2v2h-2zM167.85,843.36h2v2h-2zM161.72,837.33h2v2h-2zM155.6,831.31h2v2h-2zM149.47,825.29h2v2h-2zM143.35,819.26h2v2h-2zM137.22,813.24h2v2h-2zM131.1,807.22h2v2h-2zM124.97,801.19h2v2h-2zM118.85,795.17h2v2h-2zM112.72,789.15h2v2h-2zM188.59,872.98h2v2h-2zM180.59,869.72h2v2h-2zM172.59,866.46h2v2h-2zM164.58,863.2h2v2h-2zM156.58,859.94h2v2h-2zM148.58,856.68h2v2h-2zM140.58,853.42h2v2h-2zM132.57,850.16h2v2h-2zM124.57,846.9h2v2h-2zM116.57,843.64h2v2h-2zM108.56,840.38h2v2h-2zM100.56,837.12h2v2h-2zM92.56,833.86h2v2h-2zM84.55,830.6h2v2h-2zM187.28,879.5h2v2h-2zM178.61,879.5h2v2h-2zM169.95,879.5h2v2h-2zM161.29,879.5h2v2h-2zM152.62,879.5h2v2h-2zM143.96,879.5h2v2h-2zM135.3,879.5h2v2h-2zM126.64,879.5h2v2h-2zM117.97,879.5h2v2h-2zM109.31,879.5h2v2h-2zM100.65,879.5h2v2h-2zM91.99,879.5h2v2h-2zM83.33,879.5h2v2h-2zM74.66,879.5h2v2h-2zM188.59,886.02h2v2h-2zM180.59,889.28h2v2h-2zM172.59,892.54h2v2h-2zM164.58,895.8h2v2h-2zM156.58,899.06h2v2h-2zM148.58,902.32h2v2h-2zM140.58,905.58h2v2h-2zM132.57,908.84h2v2h-2zM124.57,912.1h2v2h-2zM116.57,915.36h2v2h-2zM108.56,918.62h2v2h-2zM100.56,921.88h2v2h-2zM92.56,925.14h2v2h-2zM84.55,928.4h2v2h-2zM192.35,891.55h2v2h-2zM186.22,897.57h2v2h-2zM180.1,903.59h2v2h-2zM173.97,909.62h2v2h-2zM167.85,915.64h2v2h-2zM161.72,921.67h2v2h-2zM155.6,927.69h2v2h-2zM149.47,933.71h2v2h-2zM143.35,939.74h2v2h-2zM137.22,945.76h2v2h-2zM131.1,951.78h2v2h-2zM124.97,957.81h2v2h-2zM118.85,963.83h2v2h-2zM112.72,969.85h2v2h-2zM197.97,895.24h2v2h-2zM194.66,903.11h2v2h-2zM191.34,910.98h2v2h-2zM188.03,918.85h2v2h-2zM184.71,926.72h2v2h-2zM181.4,934.59h2v2h-2zM178.08,942.46h2v2h-2zM174.77,950.33h2v2h-2zM171.45,958.2h2v2h-2zM168.14,966.07h2v2h-2zM164.82,973.94h2v2h-2zM161.51,981.81h2v2h-2zM158.19,989.68h2v2h-2zM154.88,997.55h2v2h-2zM204.6,896.54h2v2h-2zM204.6,905.06h2v2h-2zM204.6,913.58h2v2h-2zM204.6,922.09h2v2h-2zM204.6,930.61h2v2h-2zM204.6,939.13h2v2h-2zM204.6,947.65h2v2h-2zM204.6,956.17h2v2h-2zM204.6,964.69h2v2h-2zM204.6,973.21h2v2h-2zM204.6,981.72h2v2h-2zM204.6,990.24h2v2h-2zM204.6,998.76h2v2h-2zM204.6,1007.28h2v2h-2zM211.23,895.24h2v2h-2zM214.54,903.11h2v2h-2zM217.86,910.98h2v2h-2zM221.17,918.85h2v2h-2zM224.49,926.72h2v2h-2zM227.8,934.59h2v2h-2zM231.12,942.46h2v2h-2zM234.43,950.33h2v2h-2zM237.75,958.2h2v2h-2zM241.06,966.07h2v2h-2zM244.38,973.94h2v2h-2zM247.69,981.81h2v2h-2zM251.01,989.68h2v2h-2zM254.32,997.55h2v2h-2zM216.85,891.55h2v2h-2zM222.98,897.57h2v2h-2zM229.1,903.59h2v2h-2zM235.23,909.62h2v2h-2zM241.35,915.64h2v2h-2zM247.48,921.67h2v2h-2zM253.6,927.69h2v2h-2zM259.73,933.71h2v2h-2zM265.85,939.74h2v2h-2zM271.98,945.76h2v2h-2zM278.1,951.78h2v2h-2zM284.23,957.81h2v2h-2zM290.35,963.83h2v2h-2zM296.48,969.85h2v2h-2zM220.61,886.02h2v2h-2zM228.61,889.28h2v2h-2zM236.61,892.54h2v2h-2zM244.62,895.8h2v2h-2zM252.62,899.06h2v2h-2zM260.62,902.32h2v2h-2zM268.62,905.58h2v2h-2zM276.63,908.84h2v2h-2zM284.63,912.1h2v2h-2zM292.63,915.36h2v2h-2zM300.64,918.62h2v2h-2zM308.64,921.88h2v2h-2zM316.64,925.14h2v2h-2zM324.65,928.4h2v2h-2zM213.26,879.5h2v2h-2zM212.6,876.24h2v2h-2zM210.73,873.48h2v2h-2zM207.91,871.63h2v2h-2zM204.6,870.98h2v2h-2zM201.29,871.63h2v2h-2zM198.47,873.48h2v2h-2zM196.6,876.24h2v2h-2zM195.94,879.5h2v2h-2zM196.6,882.76h2v2h-2zM198.47,885.52h2v2h-2zM201.29,887.37h2v2h-2zM204.6,888.02h2v2h-2zM207.91,887.37h2v2h-2zM210.73,885.52h2v2h-2zM212.6,882.76h2v2h-2zM204.6,879.5h2v2h-2z" fill="#DAB262" opacity="0.75"/>
<ellipse cx="205.6" cy="880.5" rx="138.6" ry="136.3" fill="none" stroke="#E6BA5C" stroke-width="1.35"/>
<ellipse cx="205.6" cy="880.5" rx="69.3" ry="68.15" fill="none" stroke="#E6BA5C" stroke-width="1.35"/>
</g>
<line x1="67" y1="744.2" x2="344.2" y2="744.2" stroke="#a8a8a8" stroke-width="1.4"/>
<line x1="344.2" y1="744.2" x2="344.2" y2="1016.8" stroke="#707070" stroke-width="1.4"/>
<line x1="67" y1="1016.8" x2="344.2" y2="1016.8" stroke="#333" stroke-width="2"/>
<line x1="67" y1="744.2" x2="67" y2="1017.8" stroke="#4a3a58" stroke-width="2"/>
<text x="61.1" y="747.3" font-size="10" text-anchor="end" class="ax">1</text>
<line x1="64" y1="744.2" x2="67" y2="744.2" stroke="#999" stroke-width="0.8"/>
<text x="61.1" y="815.45" font-size="10" text-anchor="end" class="ax">0.5</text>
<line x1="64" y1="812.35" x2="67" y2="812.35" stroke="#999" stroke-width="0.8"/>
<text x="61.1" y="883.6" font-size="10" text-anchor="end" class="ax">0</text>
<line x1="64" y1="880.5" x2="67" y2="880.5" stroke="#999" stroke-width="0.8"/>
<text x="61.1" y="951.75" font-size="10" text-anchor="end" class="ax">-0.5</text>
<line x1="64" y1="948.65" x2="67" y2="948.65" stroke="#999" stroke-width="0.8"/>
<text x="61.1" y="1019.9" font-size="10" text-anchor="end" class="ax">-1</text>
<line x1="64" y1="1016.8" x2="67" y2="1016.8" stroke="#999" stroke-width="0.8"/>
<text x="342.9" y="1029.2" font-size="10" text-anchor="middle" class="ax">1</text>
<line x1="344.2" y1="1016.8" x2="344.2" y2="1019.8" stroke="#999" stroke-width="0.8"/>
<text x="274.9" y="1029.2" font-size="10" text-anchor="middle" class="ax">0.5</text>
<line x1="274.9" y1="1016.8" x2="274.9" y2="1019.8" stroke="#999" stroke-width="0.8"/>
<text x="205.6" y="1029.2" font-size="10" text-anchor="middle" class="ax">0</text>
<line x1="205.6" y1="1016.8" x2="205.6" y2="1019.8" stroke="#999" stroke-width="0.8"/>
<text x="136.3" y="1029.2" font-size="10" text-anchor="middle" class="ax">-0.5</text>
<line x1="136.3" y1="1016.8" x2="136.3" y2="1019.8" stroke="#999" stroke-width="0.8"/>
<text x="66.5" y="1029.2" font-size="10" text-anchor="middle" class="ax">-1</text>
<line x1="67" y1="1016.8" x2="67" y2="1019.8" stroke="#999" stroke-width="0.8"/>
<g>
<path d="M104,136 Q108,132.5 114,133 L120,133.5 L123.5,136 L124,158 L110,157.5 Q102,156 101.5,148 Q101,139 104,136Z" fill="#0000a8"/>
<circle cx="123.2" cy="163.4" r="6.3" fill="#0000b8"/>
<ellipse cx="123.2" cy="163.4" rx="5" ry="5" fill="url(#gBlue)"/>
<ellipse cx="109.5" cy="141" rx="6" ry="5.5" fill="url(#gCyan)"/>
<ellipse cx="109.2" cy="149.5" rx="7" ry="5.5" fill="url(#gHotR)"/>
</g>
<circle cx="109.3" cy="140.6" r="6.9" fill="none" stroke="#F516F5" stroke-width="1.5"/>
<circle cx="109.3" cy="149.8" r="7" fill="none" stroke="#18EC18" stroke-width="1.5"/>
<circle cx="122.8" cy="163.2" r="6.9" fill="none" stroke="#F31212" stroke-width="1.6"/>
<path d="M99,147h1.4v1.4h-1.4zM100.5,151h1.2v1.2h-1.2zM104.5,159h1.3v1.3h-1.3zM125,145h1.5v1.2h-1.5zM124.5,137h1.2v1.2h-1.2zM106,131h1.2v1.2h-1.2zM117,131.5h1.2v1.2h-1.2zM127.5,166h1.4v1.2h-1.4zM129,160h1.2v1.2h-1.2z" fill="#2020a0"/>
<ellipse cx="110.8" cy="489.2" rx="5.6" ry="4.6" fill="url(#gBlue)"/>
<ellipse cx="110.8" cy="489.2" rx="5.4" ry="4.5" fill="#0000b0"/>
<ellipse cx="109.2" cy="498.2" rx="6" ry="4.8" fill="#0000b0"/>
<ellipse cx="115.9" cy="509" rx="4.5" ry="6" fill="#0000b0"/>
<ellipse cx="108.2" cy="489.5" rx="2.8" ry="3.5" fill="url(#gHotY)"/>
<ellipse cx="107.2" cy="497.5" rx="4" ry="3.5" fill="url(#gHotR)"/>
<ellipse cx="115" cy="508.8" rx="3" ry="4.5" fill="url(#gCyan)"/>
<circle cx="109.3" cy="487.9" r="7.1" fill="none" stroke="#F516F5" stroke-width="1.5"/>
<circle cx="107.3" cy="499" r="7.2" fill="none" stroke="#18EC18" stroke-width="1.5"/>
<circle cx="115.4" cy="508.3" r="7" fill="none" stroke="#F31212" stroke-width="1.5"/>
<ellipse cx="263" cy="796" rx="5" ry="4.5" fill="#0000b0"/>
<ellipse cx="271.5" cy="792" rx="5.5" ry="3.5" fill="#0000b8"/>
<ellipse cx="262" cy="795" rx="3" ry="3" fill="url(#gLG)"/>
<ellipse cx="271" cy="791.5" rx="4" ry="2.5" fill="url(#gCyan)"/>
<ellipse cx="211.6" cy="782.5" rx="4.5" ry="4" fill="#0000b0"/>
<ellipse cx="211.6" cy="782" rx="3" ry="2.6" fill="url(#gCyan)"/>
<rect x="244.5" y="783.5" width="1.5" height="1.5" fill="#4050a0"/><rect x="205" y="790.5" width="1.5" height="1.5" fill="#3040b0"/>
<circle cx="264.4" cy="796.7" r="5.3" fill="none" stroke="#18EC18" stroke-width="1.1"/>
<circle cx="274.5" cy="791.6" r="5.2" fill="none" stroke="#5a50e8" stroke-width="1.2"/>
<circle cx="211.6" cy="782.5" r="5.6" fill="none" stroke="#F31212" stroke-width="1.2"/>
<path d="M85.6,181.5V106.4H166.8V181.5Z" fill="none" stroke="#000" stroke-width="2.6" stroke-dasharray="9.05 7.67"/>
<path d="M75.8,532.6V457.4H156V532.6Z" fill="none" stroke="#000" stroke-width="2.6" stroke-dasharray="9.05 7.67"/>
<path d="M195,833V750H285.8V833Z" fill="none" stroke="#000" stroke-width="2.6" stroke-dasharray="9.05 7.67"/>
<g clip-path="url(#icA)">
<path d="M700.66,82.46h1.8v1.8h-1.8zM679.57,62.04h1.8v1.8h-1.8zM658.49,41.62h1.8v1.8h-1.8zM676.5,168.45h1.8v1.8h-1.8zM648.95,157.4h1.8v1.8h-1.8zM621.41,146.35h1.8v1.8h-1.8zM593.87,135.3h1.8v1.8h-1.8zM566.33,124.25h1.8v1.8h-1.8zM538.78,113.2h1.8v1.8h-1.8zM511.24,102.15h1.8v1.8h-1.8zM483.7,91.1h1.8v1.8h-1.8zM456.15,80.05h1.8v1.8h-1.8zM690.43,245.8h1.8v1.8h-1.8zM660.61,245.8h1.8v1.8h-1.8zM630.8,245.8h1.8v1.8h-1.8zM600.99,245.8h1.8v1.8h-1.8zM571.18,245.8h1.8v1.8h-1.8zM541.36,245.8h1.8v1.8h-1.8zM511.55,245.8h1.8v1.8h-1.8zM481.74,245.8h1.8v1.8h-1.8zM451.93,245.8h1.8v1.8h-1.8zM422.11,245.8h1.8v1.8h-1.8z" fill="#D4B070"/>
<ellipse cx="870.2" cy="246.7" rx="477" ry="462" fill="none" stroke="#D4B070" stroke-width="1.8" stroke-dasharray="1.8 3.9"/>
<ellipse cx="870.2" cy="246.7" rx="238.5" ry="231" fill="none" stroke="#D4B070" stroke-width="1.8" stroke-dasharray="1.8 3.9"/>
</g>
<g clip-path="url(#icB)">
<path d="M684.57,391.54h1.8v1.8h-1.8zM681.51,497.48h1.8v1.8h-1.8zM654.14,486.48h1.8v1.8h-1.8zM626.77,475.48h1.8v1.8h-1.8zM599.4,464.48h1.8v1.8h-1.8zM572.03,453.48h1.8v1.8h-1.8zM544.66,442.47h1.8v1.8h-1.8zM517.29,431.47h1.8v1.8h-1.8zM489.92,420.47h1.8v1.8h-1.8zM462.55,409.47h1.8v1.8h-1.8zM695.35,574.5h1.8v1.8h-1.8zM665.73,574.5h1.8v1.8h-1.8zM636.1,574.5h1.8v1.8h-1.8zM606.48,574.5h1.8v1.8h-1.8zM576.85,574.5h1.8v1.8h-1.8zM547.23,574.5h1.8v1.8h-1.8zM517.6,574.5h1.8v1.8h-1.8zM487.98,574.5h1.8v1.8h-1.8zM458.35,574.5h1.8v1.8h-1.8zM428.73,574.5h1.8v1.8h-1.8zM681.51,651.52h1.8v1.8h-1.8z" fill="#D4B070"/>
<ellipse cx="874" cy="575.4" rx="474" ry="460" fill="none" stroke="#D4B070" stroke-width="1.8" stroke-dasharray="1.8 3.9"/>
<ellipse cx="874" cy="575.4" rx="237" ry="230" fill="none" stroke="#D4B070" stroke-width="1.8" stroke-dasharray="1.8 3.9"/>
</g>
<g clip-path="url(#icC)">
<path d="M564.96,1016.03h4.4v4.4h-4.4zM584.14,997.02h4.4v4.4h-4.4zM603.32,978.02h4.4v4.4h-4.4zM622.5,959.02h4.4v4.4h-4.4zM641.68,940.01h4.4v4.4h-4.4zM660.86,921.01h4.4v4.4h-4.4zM680.04,902h4.4v4.4h-4.4zM699.22,883h4.4v4.4h-4.4zM492.98,1000.07h4.4v4.4h-4.4zM503.36,975.25h4.4v4.4h-4.4zM513.74,950.42h4.4v4.4h-4.4zM524.12,925.59h4.4v4.4h-4.4zM534.5,900.76h4.4v4.4h-4.4zM544.88,875.93h4.4v4.4h-4.4zM555.26,851.1h4.4v4.4h-4.4zM565.64,826.27h4.4v4.4h-4.4zM576.02,801.44h4.4v4.4h-4.4zM586.4,776.61h4.4v4.4h-4.4zM430.7,1014.67h4.4v4.4h-4.4zM430.7,987.8h4.4v4.4h-4.4zM430.7,960.92h4.4v4.4h-4.4zM430.7,934.05h4.4v4.4h-4.4zM430.7,907.17h4.4v4.4h-4.4zM430.7,880.3h4.4v4.4h-4.4zM430.7,853.42h4.4v4.4h-4.4zM430.7,826.55h4.4v4.4h-4.4zM430.7,799.67h4.4v4.4h-4.4zM430.7,772.8h4.4v4.4h-4.4zM430.7,745.92h4.4v4.4h-4.4z" fill="#EDAE3C"/>
<path d="M707,817h4.4v4.4h-4.4zM703,814h4.4v4.4h-4.4zM699,811h4.4v4.4h-4.4zM695,808h4.4v4.4h-4.4zM691,805h4.4v4.4h-4.4zM687,802h4.4v4.4h-4.4zM683,799h4.4v4.4h-4.4zM679,797h4.4v4.4h-4.4zM675,794h4.4v4.4h-4.4zM671,791h4.4v4.4h-4.4zM667,789h4.4v4.4h-4.4zM663,786h4.4v4.4h-4.4zM659,783h4.4v4.4h-4.4zM655,781h4.4v4.4h-4.4zM651,778h4.4v4.4h-4.4zM646,776h4.4v4.4h-4.4zM642,773h4.4v4.4h-4.4zM638,771h4.4v4.4h-4.4zM633,769h4.4v4.4h-4.4zM629,767h4.4v4.4h-4.4zM625,764h4.4v4.4h-4.4zM620,762h4.4v4.4h-4.4zM616,760h4.4v4.4h-4.4zM611,758h4.4v4.4h-4.4zM607,756h4.4v4.4h-4.4zM602,754h4.4v4.4h-4.4zM598,752h4.4v4.4h-4.4zM593,750h4.4v4.4h-4.4zM589,749h4.4v4.4h-4.4zM584,747h4.4v4.4h-4.4zM580,745h4.4v4.4h-4.4zM575,744h4.4v4.4h-4.4zM570,742h4.4v4.4h-4.4zM606,1022h4.4v4.4h-4.4zM603,1018h4.4v4.4h-4.4zM600,1014h4.4v4.4h-4.4zM597,1010h4.4v4.4h-4.4zM593,1007h4.4v4.4h-4.4zM590,1003h4.4v4.4h-4.4zM587,1000h4.4v4.4h-4.4zM583,996h4.4v4.4h-4.4zM580,993h4.4v4.4h-4.4zM576,989h4.4v4.4h-4.4zM572,986h4.4v4.4h-4.4zM569,983h4.4v4.4h-4.4zM565,980h4.4v4.4h-4.4zM561,977h4.4v4.4h-4.4zM557,974h4.4v4.4h-4.4zM553,971h4.4v4.4h-4.4zM549,969h4.4v4.4h-4.4zM545,966h4.4v4.4h-4.4zM541,964h4.4v4.4h-4.4zM536,961h4.4v4.4h-4.4zM532,959h4.4v4.4h-4.4zM528,957h4.4v4.4h-4.4zM523,955h4.4v4.4h-4.4zM519,953h4.4v4.4h-4.4zM514,951h4.4v4.4h-4.4zM510,949h4.4v4.4h-4.4zM505,947h4.4v4.4h-4.4zM501,945h4.4v4.4h-4.4zM496,944h4.4v4.4h-4.4zM491,943h4.4v4.4h-4.4zM486,941h4.4v4.4h-4.4zM482,940h4.4v4.4h-4.4zM477,939h4.4v4.4h-4.4zM472,938h4.4v4.4h-4.4zM467,937h4.4v4.4h-4.4zM462,936h4.4v4.4h-4.4zM458,936h4.4v4.4h-4.4zM453,935h4.4v4.4h-4.4zM448,935h4.4v4.4h-4.4zM443,934h4.4v4.4h-4.4zM438,934h4.4v4.4h-4.4zM433,934h4.4v4.4h-4.4zM428,934h4.4v4.4h-4.4zM423,934h4.4v4.4h-4.4zM418,934h4.4v4.4h-4.4zM414,935h4.4v4.4h-4.4zM409,935h4.4v4.4h-4.4zM404,936h4.4v4.4h-4.4z" fill="#EDAE3C"/>
</g>
<g clip-path="url(#hmA1)">
<rect x="494" y="109" width="137" height="152" fill="#00009c"/>
<ellipse cx="540" cy="165" rx="30" ry="45" fill="url(#gBlue)" opacity="0.9"/>
<ellipse cx="582.4" cy="226.2" rx="20" ry="20" fill="url(#gBlue)" opacity="0.9"/>
<ellipse cx="535" cy="148.5" rx="18" ry="15.5" fill="url(#gHotY)"/>
<ellipse cx="535" cy="177.5" rx="23" ry="15" fill="url(#gHotR)" transform="rotate(-12 535 177.5)"/>
<ellipse cx="533.2" cy="160.5" rx="5.5" ry="9" fill="url(#gCyan)" opacity="0.9"/>
</g>
<rect x="519.5" y="133.5" width="4" height="7" fill="#fff"/>
<circle cx="534.8" cy="149" r="22.6" fill="none" stroke="#F516F5" stroke-width="2.5"/>
<circle cx="532.9" cy="177.2" r="22.6" fill="none" stroke="#18EC18" stroke-width="3.3"/>
<circle cx="582.4" cy="226.2" r="22.4" fill="none" stroke="#F31212" stroke-width="3.2"/>
<g clip-path="url(#hmB1)">
<rect x="499" y="434" width="97" height="137" fill="#00009c"/>
<ellipse cx="543" cy="470" rx="22" ry="26" fill="url(#gBlue)" opacity="0.8"/>
<ellipse cx="535" cy="497" rx="22" ry="20" fill="url(#gBlue)" opacity="0.8"/>
<ellipse cx="560" cy="531" rx="16" ry="22" fill="url(#gBlue)" opacity="0.9"/>
<ellipse cx="535.5" cy="467" rx="11" ry="15" fill="url(#gHotO)" transform="rotate(20 535.5 467)"/>
<ellipse cx="530" cy="495.5" rx="15" ry="12" fill="url(#gHotR)"/>
<ellipse cx="558" cy="531" rx="7.5" ry="13" fill="url(#gCyan)"/>
</g>
<circle cx="538.8" cy="465" r="22.5" fill="none" stroke="#F516F5" stroke-width="2.9"/>
<circle cx="532.1" cy="497.7" r="22.3" fill="none" stroke="#18EC18" stroke-width="3.1"/>
<circle cx="561.4" cy="530.8" r="22.5" fill="none" stroke="#F31212" stroke-width="3.1"/>
<g clip-path="url(#hmC1)">
<rect x="419" y="819" width="252" height="92" fill="#00009c"/>
<ellipse cx="449.6" cy="839.5" rx="12" ry="9" fill="url(#gLG)"/>
<ellipse cx="619.3" cy="879" rx="14" ry="12" fill="url(#gGY)"/>
<ellipse cx="646.3" cy="870.5" rx="17" ry="10" fill="url(#gLG)"/>
<ellipse cx="617" cy="888" rx="18" ry="14" fill="url(#gBlue)" opacity="0.5"/>
</g>
<circle cx="450.5" cy="840.7" r="17.9" fill="none" stroke="#F31212" stroke-width="4.2"/>
<circle cx="617.9" cy="885.5" r="17.9" fill="none" stroke="#F516F5" stroke-width="4.2"/>
<circle cx="647.2" cy="871.1" r="17.9" fill="none" stroke="#18EC18" stroke-width="4.2"/>
<rect x="409.6" y="34.2" width="289.3" height="269.4" fill="none" stroke="#000" stroke-width="2.6"/>
<rect x="409.6" y="387.5" width="289.3" height="269.1" fill="none" stroke="#000" stroke-width="2.6"/>
<rect x="408.4" y="749" width="296" height="271.5" fill="none" stroke="#000" stroke-width="2.6"/>
<text x="398.4" y="250.8" font-size="11.5" text-anchor="middle" class="ax">0</text>
<text x="631.6" y="319.4" font-size="11.5" text-anchor="middle" class="ax">-0.5</text>
<text x="398.4" y="579.1" font-size="11.5" text-anchor="middle" class="ax">0</text>
<text x="636.1" y="671" font-size="11.5" text-anchor="middle" class="ax">-0.5</text>
<text x="472.67" y="122.7" font-family='"Liberation Serif",serif' font-weight="bold" font-style="italic" font-size="36.49" textLength="21.67" lengthAdjust="spacingAndGlyphs" fill="#000">L</text>
<text x="493.57" y="130.58" font-family='"Liberation Sans",sans-serif' font-weight="bold" font-style="italic" font-size="21.74" textLength="12.88" lengthAdjust="spacingAndGlyphs" fill="#000">o</text>
<text x="482.97" y="219.7" font-family='"Liberation Serif",serif' font-weight="bold" font-style="italic" font-size="36.18" textLength="21.99" lengthAdjust="spacingAndGlyphs" fill="#000">L</text>
<text x="505.2" y="227.81" font-family='"Liberation Serif",serif' font-weight="normal" font-style="italic" font-size="21.14" textLength="14.31" lengthAdjust="spacingAndGlyphs" fill="#000">β</text>
<text x="602.46" y="266.7" font-family='"Liberation Serif",serif' font-weight="bold" font-style="italic" font-size="36.18" textLength="21.03" lengthAdjust="spacingAndGlyphs" fill="#000">L</text>
<text x="623.12" y="274.98" font-family='"Liberation Sans",sans-serif' font-weight="bold" font-style="italic" font-size="22.45" textLength="12.88" lengthAdjust="spacingAndGlyphs" fill="#000">d</text>
<text x="479.97" y="436.6" font-family='"Liberation Serif",serif' font-weight="bold" font-style="italic" font-size="36.03" textLength="21.99" lengthAdjust="spacingAndGlyphs" fill="#000">L</text>
<text x="501.5" y="444.48" font-family='"Liberation Sans",sans-serif' font-weight="bold" font-style="italic" font-size="22.47" textLength="12.22" lengthAdjust="spacingAndGlyphs" fill="#000">o</text>
<text x="486.56" y="534.7" font-family='"Liberation Serif",serif' font-weight="bold" font-style="italic" font-size="35.57" textLength="21.14" lengthAdjust="spacingAndGlyphs" fill="#000">L</text>
<text x="508.8" y="542.6" font-family='"Liberation Serif",serif' font-weight="normal" font-style="italic" font-size="22.13" textLength="14.31" lengthAdjust="spacingAndGlyphs" fill="#000">β</text>
<text x="580.36" y="570.9" font-family='"Liberation Serif",serif' font-weight="bold" font-style="italic" font-size="35.57" textLength="21.57" lengthAdjust="spacingAndGlyphs" fill="#000">L</text>
<text x="601.96" y="579.09" font-family='"Liberation Sans",sans-serif' font-weight="bold" font-style="italic" font-size="21.22" textLength="12.07" lengthAdjust="spacingAndGlyphs" fill="#000">d</text>
<text x="434.96" y="803.8" font-family='"Liberation Serif",serif' font-weight="bold" font-style="italic" font-size="34.81" textLength="21.57" lengthAdjust="spacingAndGlyphs" fill="#000">L</text>
<text x="456.14" y="812.49" font-family='"Liberation Sans",sans-serif' font-weight="bold" font-style="italic" font-size="21.36" textLength="12.47" lengthAdjust="spacingAndGlyphs" fill="#000">d</text>
<text x="607.87" y="840.4" font-family='"Liberation Serif",serif' font-weight="bold" font-style="italic" font-size="35.42" textLength="21.99" lengthAdjust="spacingAndGlyphs" fill="#000">L</text>
<text x="630.49" y="848.31" font-family='"Liberation Serif",serif' font-weight="normal" font-style="italic" font-size="22.56" textLength="13.93" lengthAdjust="spacingAndGlyphs" fill="#000">β</text>
<text x="628.26" y="933.4" font-family='"Liberation Serif",serif' font-weight="bold" font-style="italic" font-size="35.57" textLength="21.14" lengthAdjust="spacingAndGlyphs" fill="#000">L</text>
<text x="649.38" y="941.62" font-family='"Liberation Sans",sans-serif' font-weight="bold" font-style="italic" font-size="18.45" textLength="12.66" lengthAdjust="spacingAndGlyphs" fill="#000">o</text>
</svg>
</body></html>
